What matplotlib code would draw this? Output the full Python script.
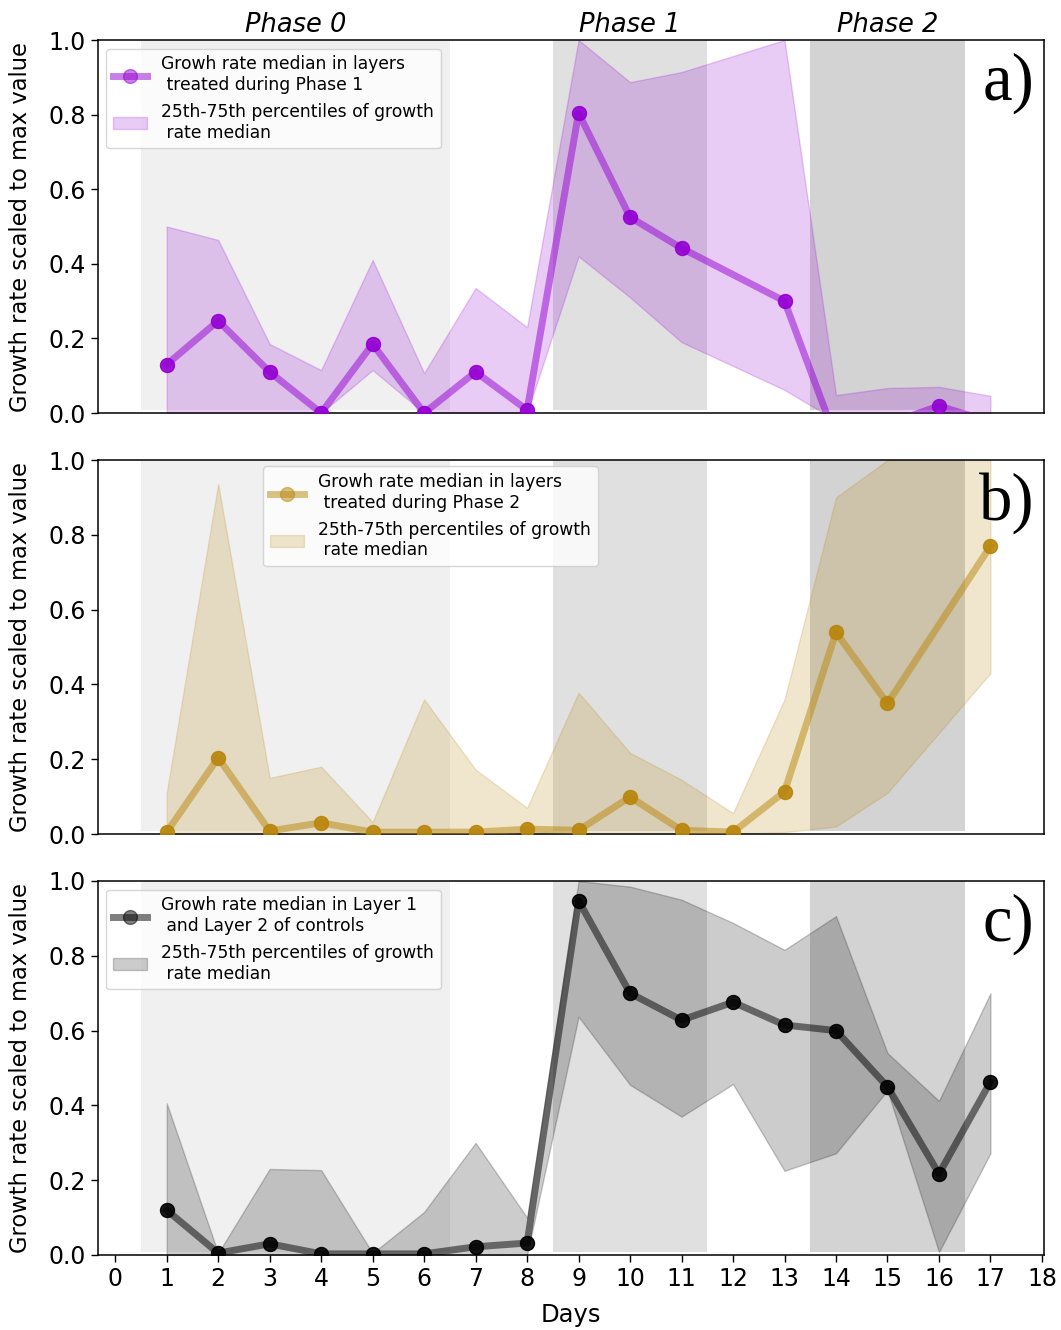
import matplotlib
matplotlib.use("Agg")
import matplotlib.pyplot as plt
import matplotlib.transforms as mtransforms

# ---------------- data ----------------
days_a = [1, 2, 3, 4, 5, 6, 7, 8, 9, 10, 11, 13, 14, 15, 16, 17]
med_a = [0.13, 0.247, 0.11, 0.0, 0.185, 0.0, 0.11, 0.008, 0.804, 0.525, 0.442, 0.30, -0.07, -0.03, 0.019, -0.024]
q25_a = [0.0, 0.0, 0.0, 0.0, 0.115, 0.0, 0.0, 0.0, 0.42, 0.31, 0.19, 0.062, -0.02, -0.08, -0.06, -0.07]
q75_a = [0.50, 0.464, 0.185, 0.115, 0.41, 0.107, 0.335, 0.23, 1.0, 0.887, 0.914, 1.0, 0.048, 0.067, 0.07, 0.046]

days_b = [1, 2, 3, 4, 5, 6, 7, 8, 9, 10, 11, 12, 13, 14, 15, 17]
med_b = [0.005, 0.204, 0.008, 0.03, 0.005, 0.005, 0.005, 0.013, 0.01, 0.099, 0.01, 0.005, 0.113, 0.539, 0.349, 0.77]
q25_b = [0.0, 0.0, 0.0, 0.0, 0.0, 0.0, 0.0, 0.0, 0.0, 0.0, 0.0, 0.0, 0.005, 0.02, 0.11, 0.43]
q75_b = [0.11, 0.936, 0.15, 0.18, 0.032, 0.36, 0.172, 0.07, 0.378, 0.217, 0.145, 0.056, 0.36, 0.90, 1.0, 1.0]

days_c = [1, 2, 3, 4, 5, 6, 7, 8, 9, 10, 11, 12, 13, 14, 15, 16, 17]
med_c = [0.12, 0.005, 0.03, 0.003, 0.003, 0.003, 0.022, 0.032, 0.947, 0.70, 0.628, 0.676, 0.615, 0.60, 0.45, 0.217, 0.463]
q25_c = [0.0, 0.0, 0.0, 0.0, 0.0, 0.0, 0.0, 0.0, 0.637, 0.455, 0.37, 0.457, 0.225, 0.272, 0.44, 0.008, 0.272]
q75_c = [0.406, 0.005, 0.23, 0.227, 0.005, 0.115, 0.30, 0.10, 1.0, 0.985, 0.95, 0.888, 0.816, 0.906, 0.54, 0.412, 0.70]

phase_names = ["Phase 0", "Phase 1", "Phase 2"]
phase_spans = [(0.5, 6.5), (8.5, 11.5), (13.5, 16.5)]
phase_colors = ["#f0f0f0", "#e0e0e0", "#d3d3d3"]

labels_med = ["Growh rate median in layers\n treated during Phase 1",
              "Growh rate median in layers\n treated during Phase 2",
              "Growh rate median in Layer 1\n and Layer 2 of controls"]
label_fill = "25th-75th percentiles of growth\n rate median"
panel_tags = ["a)", "b)", "c)"]
series_colors = ["darkviolet", "darkgoldenrod", "black"]
xticks = list(range(0, 19))
yticks = [0.0, 0.2, 0.4, 0.6, 0.8, 1.0]

# ---------------- figure ----------------
fig = plt.figure(figsize=(10.61, 13.30), dpi=100)
W, H = 1061.0, 1330.0
left = 97.7 / W
width = (1044 - 97.7) / W
rects = [(413, 373), (834, 374), (1255, 374)]

data = [(days_a, med_a, q25_a, q75_a),
        (days_b, med_b, q25_b, q75_b),
        (days_c, med_c, q25_c, q75_c)]

legend_pos = [dict(loc="upper left"),
              dict(loc="upper left", bbox_to_anchor=(0.175, 0.983), borderaxespad=0),
              dict(loc="upper left")]

axes = []
for i, ((bot, h), (d, m, lo, hi)) in enumerate(zip(rects, data)):
    ax = fig.add_axes([left, 1 - bot / H, width, h / H])
    axes.append(ax)
    for (x0, x1), pc in zip(phase_spans, phase_colors):
        ax.axvspan(x0, x1, ymin=0.008, ymax=1.0, color=pc, lw=0, zorder=0)
    col = series_colors[i]
    ax.plot(d, m, "-o", color=col, alpha=0.5, lw=5, ms=10, zorder=3,
            label=labels_med[i])
    ax.plot(d, m, "o", color=col, alpha=0.8, ms=10, zorder=4)
    ax.fill_between(d, lo, hi, color=col, alpha=0.2, zorder=2, label=label_fill)
    ax.set_xlim(-0.34, 18.04)
    ax.set_ylim(0, 1.0)
    ax.set_yticks(yticks)
    ax.set_yticklabels([f"{v:.1f}" for v in yticks])
    ax.set_xticks(xticks)
    ax.tick_params(axis="both", labelsize=17, length=5, width=1.0)
    ax.set_ylabel("Growth rate scaled to max value", fontsize=16.3)
    ax.yaxis.set_label_coords(-0.0695, 0.5)
    for sp in ax.spines.values():
        sp.set_linewidth(1.1)
    if i < 2:
        ax.tick_params(axis="x", bottom=False, labelbottom=False)
    leg = ax.legend(fontsize=12.3, **legend_pos[i])
    leg.set_zorder(10)
    ax.text(0.99, 0.84, panel_tags[i], transform=ax.transAxes, ha="right",
            va="baseline", fontsize=48, family="Liberation Serif", zorder=6)

axes[2].set_xlabel("Days", fontsize=17.5, labelpad=9)

trans = mtransforms.blended_transform_factory(axes[0].transData, axes[0].transAxes)
for name, (x0, x1) in zip(phase_names, phase_spans):
    axes[0].text((x0 + x1) / 2, 1.022, name, transform=trans, ha="center",
                 va="baseline", fontsize=18.5, style="italic")

fig.savefig("out.png", dpi=100)
